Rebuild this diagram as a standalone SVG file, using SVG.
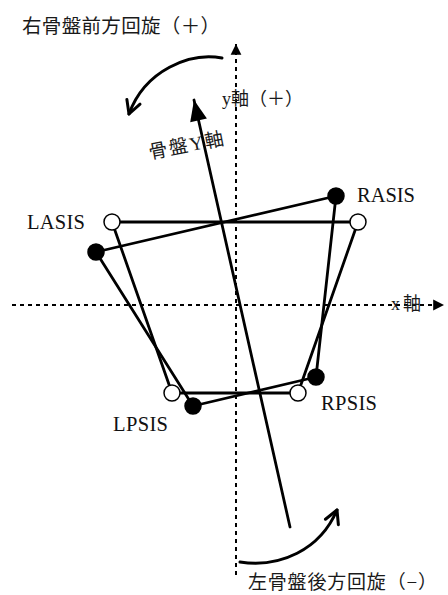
<svg xmlns="http://www.w3.org/2000/svg" width="448" height="595" viewBox="0 0 448 595">
<style>
.lat{font-family:"Liberation Serif","Noto Sans CJK JP",serif;fill:#111}
.cjk{font-family:"Liberation Serif","Noto Sans CJK JP",serif;fill:#1a1a1a}
.axis{stroke:#000;stroke-width:2;stroke-dasharray:4 4;fill:none}
.seg{stroke:#000;stroke-width:2.8;fill:none;stroke-linecap:round}
.open{fill:#fff;stroke:#000;stroke-width:1.5}
.fill{fill:#000;stroke:#000;stroke-width:1.5}
.arc{stroke:#000;stroke-width:3;fill:none;stroke-linecap:round}
</style>
<defs>
<marker id="tri" markerUnits="userSpaceOnUse" markerWidth="12" markerHeight="12" viewBox="-10 -5 10 10" refX="0" refY="0" orient="auto">
<path d="M-9,-4.5 L0,0 L-9,4.5 Z" fill="#000"/>
</marker>
<marker id="big" markerUnits="userSpaceOnUse" markerWidth="22" markerHeight="22" viewBox="-18 -9 18 18" refX="0" refY="0" orient="auto">
<path d="M-17,-7 L0,0 L-17,7 Z" fill="#000"/>
</marker>
<marker id="chev" markerUnits="userSpaceOnUse" markerWidth="20" markerHeight="20" viewBox="-16 -10 18 20" refX="0" refY="0" orient="auto">
<path d="M-13,-7 L0,0 L-13,7" fill="none" stroke="#000" stroke-width="3" stroke-linecap="round" stroke-linejoin="round"/>
</marker>
</defs>

<g id="connectors">
<line class="axis" x1="236" y1="575" x2="236" y2="44" marker-end="url(#tri)"/>
<line class="axis" x1="12" y1="305" x2="444" y2="305" marker-end="url(#tri)"/>
<line id="pelvis-y-axis" class="seg" x1="290" y1="527" x2="194" y2="100" marker-end="url(#big)"/>
<line class="seg" x1="112" y1="222" x2="358" y2="222"/>
<line class="seg" x1="112" y1="222" x2="172" y2="393"/>
<line class="seg" x1="172" y1="393" x2="298" y2="393"/>
<line class="seg" x1="298" y1="393" x2="358" y2="222"/>
<line class="seg" x1="96" y1="252" x2="336" y2="196"/>
<line class="seg" x1="336" y1="196" x2="316" y2="377"/>
<line class="seg" x1="316" y1="377" x2="193" y2="406"/>
<line class="seg" x1="193" y1="406" x2="96" y2="252"/>
<path class="arc" d="M222,58 C190,52 145,70 129,114" marker-end="url(#chev)"/>
<path class="arc" d="M240,562 C280,568 320,550 337,510" marker-end="url(#chev)"/>
</g>

<g id="LASIS-open"><circle class="open" cx="112" cy="222" r="8"/></g>
<g id="RASIS-open"><circle class="open" cx="358" cy="222" r="8"/></g>
<g id="LPSIS-open"><circle class="open" cx="172" cy="393" r="8"/></g>
<g id="RPSIS-open"><circle class="open" cx="298" cy="393" r="8"/></g>
<g id="LASIS-filled"><circle class="fill" cx="96" cy="252" r="8"/></g>
<g id="RASIS-filled"><circle class="fill" cx="336" cy="196" r="8"/></g>
<g id="RPSIS-filled"><circle class="fill" cx="316" cy="377" r="8"/></g>
<g id="LPSIS-filled"><circle class="fill" cx="193" cy="406" r="8"/></g>

<g id="labels">
<text class="lat" x="27" y="229" font-size="20.5" textLength="58">LASIS</text>
<text class="lat" x="357" y="202" font-size="20.5" textLength="58">RASIS</text>
<text class="lat" x="113" y="431" font-size="20.5" textLength="55">LPSIS</text>
<text class="lat" x="321" y="410" font-size="20.5" textLength="56">RPSIS</text>
<text class="cjk" x="22" y="33" font-size="19.5" textLength="198">右骨盤前方回旋（＋）</text>
<text class="cjk" x="248" y="589" font-size="19" textLength="189">左骨盤後方回旋（−）</text>
<text class="cjk" x="222" y="105" font-size="18" textLength="81">y軸（＋）</text>
<text class="cjk" x="391" y="310" font-size="18" textLength="30">x軸</text>
<text class="cjk" x="150" y="159" font-size="19" textLength="76" transform="rotate(-11 150 159)">骨盤Y軸</text>
</g>
</svg>
